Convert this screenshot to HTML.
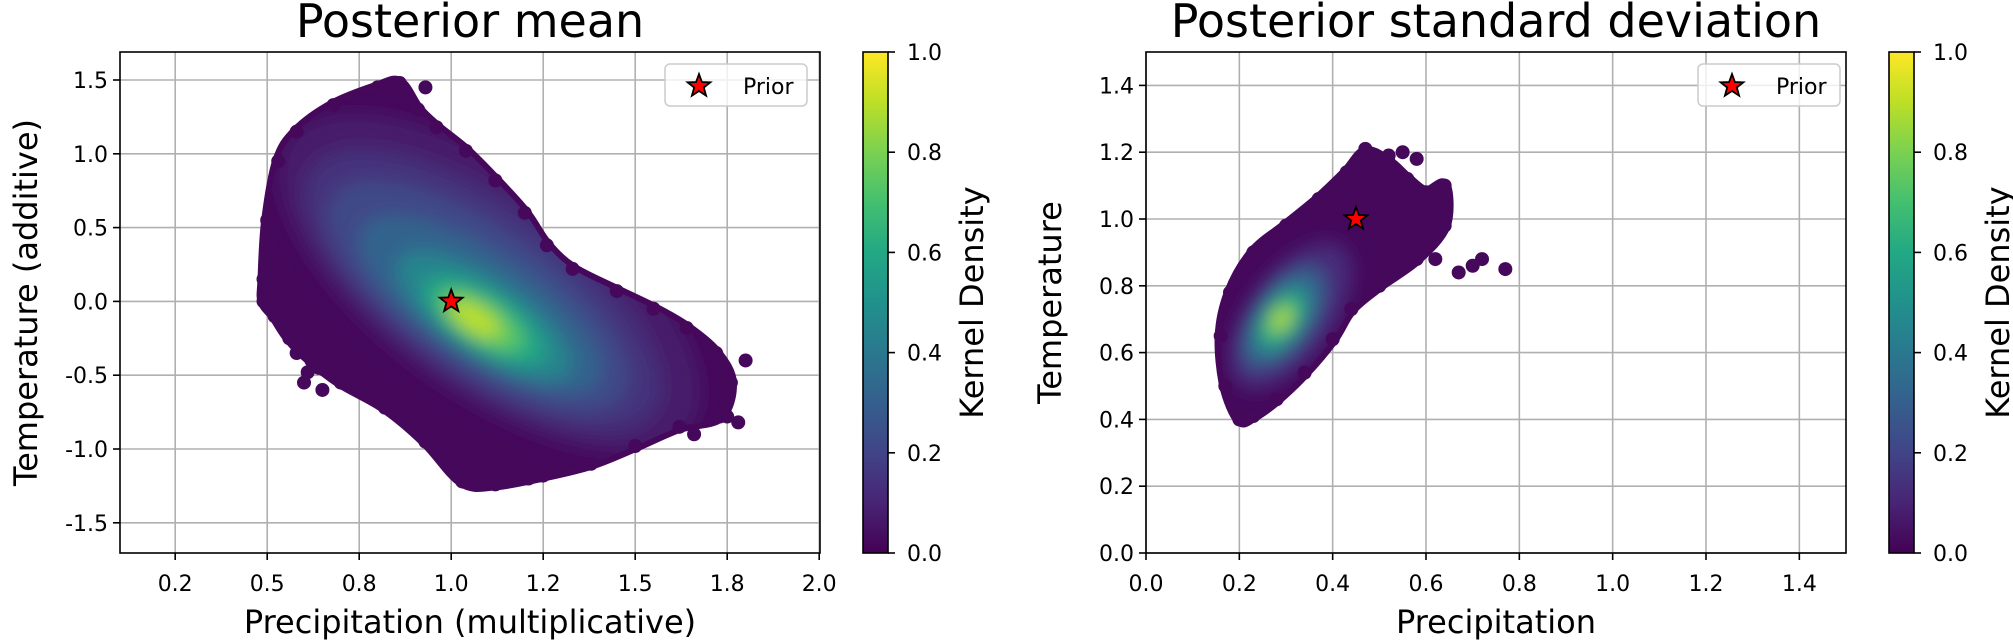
<!DOCTYPE html>
<html><head><meta charset="utf-8"><style>
html,body{margin:0;padding:0;background:#fff;}
svg{display:block;font-family:"DejaVu Sans","Liberation Sans",sans-serif;}
</style></head><body>
<svg id="fig" width="2013" height="644" viewBox="0 0 2013 644" xmlns="http://www.w3.org/2000/svg">
<defs>
<linearGradient id="viridis" x1="0" y1="1" x2="0" y2="0">
<stop offset="0" stop-color="#440154"/><stop offset="0.1" stop-color="#482475"/><stop offset="0.2" stop-color="#414487"/><stop offset="0.3" stop-color="#355f8d"/><stop offset="0.4" stop-color="#2a788e"/><stop offset="0.5" stop-color="#21918c"/><stop offset="0.6" stop-color="#22a884"/><stop offset="0.7" stop-color="#44bf70"/><stop offset="0.8" stop-color="#7ad151"/><stop offset="0.9" stop-color="#bddf26"/><stop offset="1" stop-color="#fde725"/>
</linearGradient>
<filter id="blur" x="-20%" y="-20%" width="140%" height="140%"><feGaussianBlur stdDeviation="9"/></filter>
</defs>
<g id="root"></g>
</svg>
<script>
// ---- Left chart data (Posterior mean) ----
const leftXTicks = [0.25,0.5,0.75,1.0,1.25,1.5,1.75,2.0];
const leftXTickLabels = ["0.2","0.5","0.8","1.0","1.2","1.5","1.8","2.0"];
const leftYTicks = [-1.5,-1.0,-0.5,0.0,0.5,1.0,1.5];
const leftYTickLabels = ["-1.5","-1.0","-0.5","0.0","0.5","1.0","1.5"];
const leftOutlineX = [0.49,0.50,0.53,0.58,0.68,0.80,0.86,0.91,0.96,1.04,1.12,1.20,1.26,1.33,1.45,1.55,1.64,1.72,1.76,1.73,1.62,1.50,1.38,1.25,1.12,1.03,0.93,0.82,0.70,0.62,0.56,0.52,0.49];
const leftOutlineY = [0.15,0.55,0.95,1.15,1.33,1.45,1.48,1.30,1.18,1.02,0.82,0.60,0.38,0.22,0.07,-0.05,-0.18,-0.35,-0.55,-0.78,-0.85,-0.98,-1.10,-1.18,-1.24,-1.22,-0.95,-0.72,-0.55,-0.40,-0.25,-0.10,0.0];
const leftOutlierX = [0.60,0.65,0.61,1.02,1.80,1.78,1.75,0.93,1.15,1.21,1.66,0.70,0.64,0.58];
const leftOutlierY = [-0.55,-0.60,-0.48,-1.18,-0.40,-0.82,-0.78,1.45,-1.22,-1.20,-0.90,-0.50,-0.45,-0.35];
const leftLevels = [0.07,0.14,0.22,0.32,0.45,0.6,0.75,0.9];
const leftLevelX1 = [0.56,0.62,0.68,0.76,0.86,0.93,0.97,1.00];
const leftLevelY1 = [1.10,0.90,0.72,0.50,0.28,0.12,0.04,-0.02];
const leftLevelX2 = [1.65,1.55,1.47,1.40,1.32,1.25,1.19,1.13];
const leftLevelY2 = [-0.85,-0.75,-0.65,-0.55,-0.48,-0.38,-0.30,-0.22];
const leftLevelRatio = [0.45,0.42,0.40,0.38,0.38,0.40,0.42,0.45];
const leftPrior = [1.0, 0.0];

// ---- Right chart data (Posterior standard deviation) ----
const rightXTicks = [0.0,0.2,0.4,0.6,0.8,1.0,1.2,1.4];
const rightXTickLabels = ["0.0","0.2","0.4","0.6","0.8","1.0","1.2","1.4"];
const rightYTicks = [0.0,0.2,0.4,0.6,0.8,1.0,1.2,1.4];
const rightYTickLabels = ["0.0","0.2","0.4","0.6","0.8","1.0","1.2","1.4"];
const rightOutlineX = [0.20,0.17,0.16,0.18,0.23,0.30,0.37,0.43,0.47,0.52,0.56,0.60,0.64,0.64,0.58,0.50,0.44,0.40,0.34,0.28,0.23];
const rightOutlineY = [0.40,0.50,0.65,0.78,0.90,0.98,1.06,1.14,1.20,1.17,1.12,1.08,1.10,0.98,0.88,0.80,0.73,0.64,0.54,0.46,0.41];
const rightOutlierX = [0.77,0.72,0.70,0.67,0.62,0.60,0.58,0.63,0.55,0.52,0.47];
const rightOutlierY = [0.85,0.88,0.86,0.84,0.88,0.93,1.18,1.05,1.20,1.19,1.21];
const rightLevels = [0.12,0.3,0.5,0.7,0.9];
const rightLevelX1 = [0.20,0.22,0.245,0.26,0.275];
const rightLevelY1 = [0.50,0.56,0.60,0.64,0.67];
const rightLevelX2 = [0.42,0.37,0.34,0.32,0.305];
const rightLevelY2 = [0.92,0.85,0.80,0.76,0.73];
const rightLevelRatio = [0.5,0.5,0.5,0.55,0.6];
const rightPrior = [0.45, 1.0];

const cbTicks = [0.0,0.2,0.4,0.6,0.8,1.0];
const cbTickLabels = ["0.0","0.2","0.4","0.6","0.8","1.0"];

const NS = "http://www.w3.org/2000/svg";
const root = document.getElementById('root');
const stops = ["#440154","#482475","#414487","#355f8d","#2a788e","#21918c","#22a884","#44bf70","#7ad151","#bddf26","#fde725"];
function viridis(t){
  t=Math.max(0,Math.min(1,t)); const f=t*10, i=Math.min(9,Math.floor(f)), r=f-i;
  const a=stops[i], b=stops[i+1];
  const c=k=>Math.round(parseInt(a.substr(k,2),16)*(1-r)+parseInt(b.substr(k,2),16)*r);
  return `rgb(${c(1)},${c(3)},${c(5)})`;
}
function mk(tag, attrs, parent){
  const e=document.createElementNS(NS,tag);
  for(const k in attrs) e.setAttribute(k,attrs[k]);
  (parent||root).appendChild(e); return e;
}
function starPath(cx,cy,R,r){
  let d="";
  for(let i=0;i<10;i++){const a=-Math.PI/2+i*Math.PI/5, rr=i%2?r:R; d+=(i?"L":"M")+(cx+rr*Math.cos(a)).toFixed(1)+","+(cy+rr*Math.sin(a)).toFixed(1);}
  return d+"Z";
}
function smoothClosed(P){
  const n=P.length; let d="M"+P[0][0].toFixed(1)+","+P[0][1].toFixed(1);
  for(let i=0;i<n;i++){
    const p0=P[(i-1+n)%n],p1=P[i],p2=P[(i+1)%n],p3=P[(i+2)%n];
    const c1=[p1[0]+(p2[0]-p0[0])/6,p1[1]+(p2[1]-p0[1])/6];
    const c2=[p2[0]-(p3[0]-p1[0])/6,p2[1]-(p3[1]-p1[1])/6];
    d+="C"+c1[0].toFixed(1)+","+c1[1].toFixed(1)+" "+c2[0].toFixed(1)+","+c2[1].toFixed(1)+" "+p2[0].toFixed(1)+","+p2[1].toFixed(1);
  }
  return d+"Z";
}

function drawChart(cfg){
  const g = mk('g',{});
  
  
  const {L,R,T,B,sx,sy} = cfg;
  cfg.xTicks.forEach(v=>{
    const l=mk('line',{x1:sx(v),x2:sx(v),y1:T,y2:B,stroke:"#b0b0b0","stroke-width":1.6},g);
    
    
  });
  cfg.yTicks.forEach(v=>{
    const l=mk('line',{x1:L,x2:R,y1:sy(v),y2:sy(v),stroke:"#b0b0b0","stroke-width":1.6},g);
    
    
  });
  const cid = cfg.name+'-clip';
  const cp = mk('clipPath',{id:cid},g);
  const P = cfg.ox.map((x,i)=>[sx(x),sy(cfg.oy[i])]);
  const d = smoothClosed(P);
  mk('path',{d:d},cp);
  const cloud = mk('g',{},g);
  
  
  const base = mk('path',{d:d,fill:viridis(0.02),stroke:viridis(0.02),"stroke-width":12,"stroke-linejoin":"round"},cloud);
  
  
  const inner = mk('g',{"clip-path":`url(#${cid})`},cloud);
  const blurG = mk('g',{filter:"url(#blur)"},inner);
  cfg.lv.forEach((lev,i)=>{
    const x1=sx(cfg.lx1[i]), y1=sy(cfg.ly1[i]), x2=sx(cfg.lx2[i]), y2=sy(cfg.ly2[i]);
    const cx=(x1+x2)/2, cy=(y1+y2)/2, rx=Math.hypot(x2-x1,y2-y1)/2, ry=rx*cfg.lr[i];
    const ang=Math.atan2(y2-y1,x2-x1)*180/Math.PI;
    const e=mk('ellipse',{cx:cx,cy:cy,rx:rx,ry:ry,fill:viridis(lev),transform:`rotate(${ang} ${cx} ${cy})`},blurG);
    
    
  });
  cfg.ox.concat(cfg.px).forEach((x,i)=>{
    const y = i<cfg.ox.length ? cfg.oy[i] : cfg.py[i-cfg.ox.length];
    const c=mk('circle',{cx:sx(x),cy:sy(y),r:7,fill:viridis(0.02)},cloud);
    
    
  });
  const st=mk('path',{d:starPath(sx(cfg.prior[0]),sy(cfg.prior[1]),12,5),fill:"#ff0000",stroke:"#000","stroke-width":1.8,"stroke-linejoin":"miter"},g);
  
  
  const fr=mk('rect',{x:L,y:T,width:R-L,height:B-T,fill:"none",stroke:"#000","stroke-width":1.6},g);
  
  
  cfg.xTicks.forEach((v,i)=>{
    mk('line',{x1:sx(v),x2:sx(v),y1:B,y2:B+7,stroke:"#000","stroke-width":1.6},g);
    const t=mk('text',{x:sx(v),y:B+38,"text-anchor":"middle","font-size":22},g);
    t.textContent=cfg.xLabels[i];
    
    
  });
  cfg.yTicks.forEach((v,i)=>{
    mk('line',{x1:L-7,x2:L,y1:sy(v),y2:sy(v),stroke:"#000","stroke-width":1.6},g);
    const t=mk('text',{x:L-12,y:sy(v)+8,"text-anchor":"end","font-size":22},g);
    t.textContent=cfg.yLabels[i];
    
    
  });
  const tt=mk('text',{x:(L+R)/2,y:37,"text-anchor":"middle","font-size":46},g);
  tt.textContent=cfg.title;
  
  
  const xl=mk('text',{x:(L+R)/2,y:633,"text-anchor":"middle","font-size":32},g);
  xl.textContent=cfg.xTitle;
  
  
  const ym=(T+B)/2;
  const yl=mk('text',{x:cfg.yTitleX,y:ym,"text-anchor":"middle","font-size":32,transform:`rotate(-90 ${cfg.yTitleX} ${ym})`,"dominant-baseline":"central"},g);
  yl.textContent=cfg.yTitle;
  
  
  const lg=mk('g',{},g);
  
  
  const lx=cfg.legendX;
  mk('rect',{x:lx,y:64,width:142,height:42,rx:5,fill:"#fff","fill-opacity":0.8,stroke:"#cccccc","stroke-width":1.5},lg);
  mk('path',{d:starPath(lx+34,86,12,5),fill:"#ff0000",stroke:"#000","stroke-width":1.8},lg);
  const lt=mk('text',{x:lx+78,y:94,"font-size":22},lg);
  lt.textContent="Prior";
  
  
  const cb=mk('g',{},g);
  
  
  const cx0=cfg.cbX, cw=25;
  mk('rect',{x:cx0,y:T,width:cw,height:B-T,fill:"url(#viridis)",stroke:"#000","stroke-width":1.6},cb);
  cbTicks.forEach((v,i)=>{
    const y=B-v*(B-T);
    mk('line',{x1:cx0+cw,x2:cx0+cw+7,y1:y,y2:y,stroke:"#000","stroke-width":1.6},cb);
    const t=mk('text',{x:cx0+cw+19,y:y+8,"font-size":22},cb);
    t.textContent=cbTickLabels[i];
    
    
  });
  const clx=cx0+cw+84;
  const cl=mk('text',{x:clx,y:ym,"text-anchor":"middle","font-size":32,transform:`rotate(-90 ${clx} ${ym})`,"dominant-baseline":"central"},cb);
  cl.textContent="Kernel Density";
  
  
}

drawChart({name:'posterior-mean-chart',L:120,R:820,T:52,B:553,
  sx:v=>120+(v-0.1)*368, sy:v=>301.4-v*147.6,
  xTicks:leftXTicks,xLabels:leftXTickLabels,yTicks:leftYTicks,yLabels:leftYTickLabels,
  ox:leftOutlineX,oy:leftOutlineY,px:leftOutlierX,py:leftOutlierY,
  lv:leftLevels,lx1:leftLevelX1,ly1:leftLevelY1,lx2:leftLevelX2,ly2:leftLevelY2,lr:leftLevelRatio,
  prior:leftPrior,title:"Posterior mean",xTitle:"Precipitation (multiplicative)",
  yTitle:"Temperature (additive)",yTitleX:26,legendX:665,cbX:863});
drawChart({name:'posterior-std-chart',L:1146,R:1846,T:52,B:553,
  sx:v=>1146+v*466.67, sy:v=>553-v*334,
  xTicks:rightXTicks,xLabels:rightXTickLabels,yTicks:rightYTicks,yLabels:rightYTickLabels,
  ox:rightOutlineX,oy:rightOutlineY,px:rightOutlierX,py:rightOutlierY,
  lv:rightLevels,lx1:rightLevelX1,ly1:rightLevelY1,lx2:rightLevelX2,ly2:rightLevelY2,lr:rightLevelRatio,
  prior:rightPrior,title:"Posterior standard deviation",xTitle:"Precipitation",
  yTitle:"Temperature",yTitleX:1050,legendX:1698,cbX:1889});
</script>
</body></html>
